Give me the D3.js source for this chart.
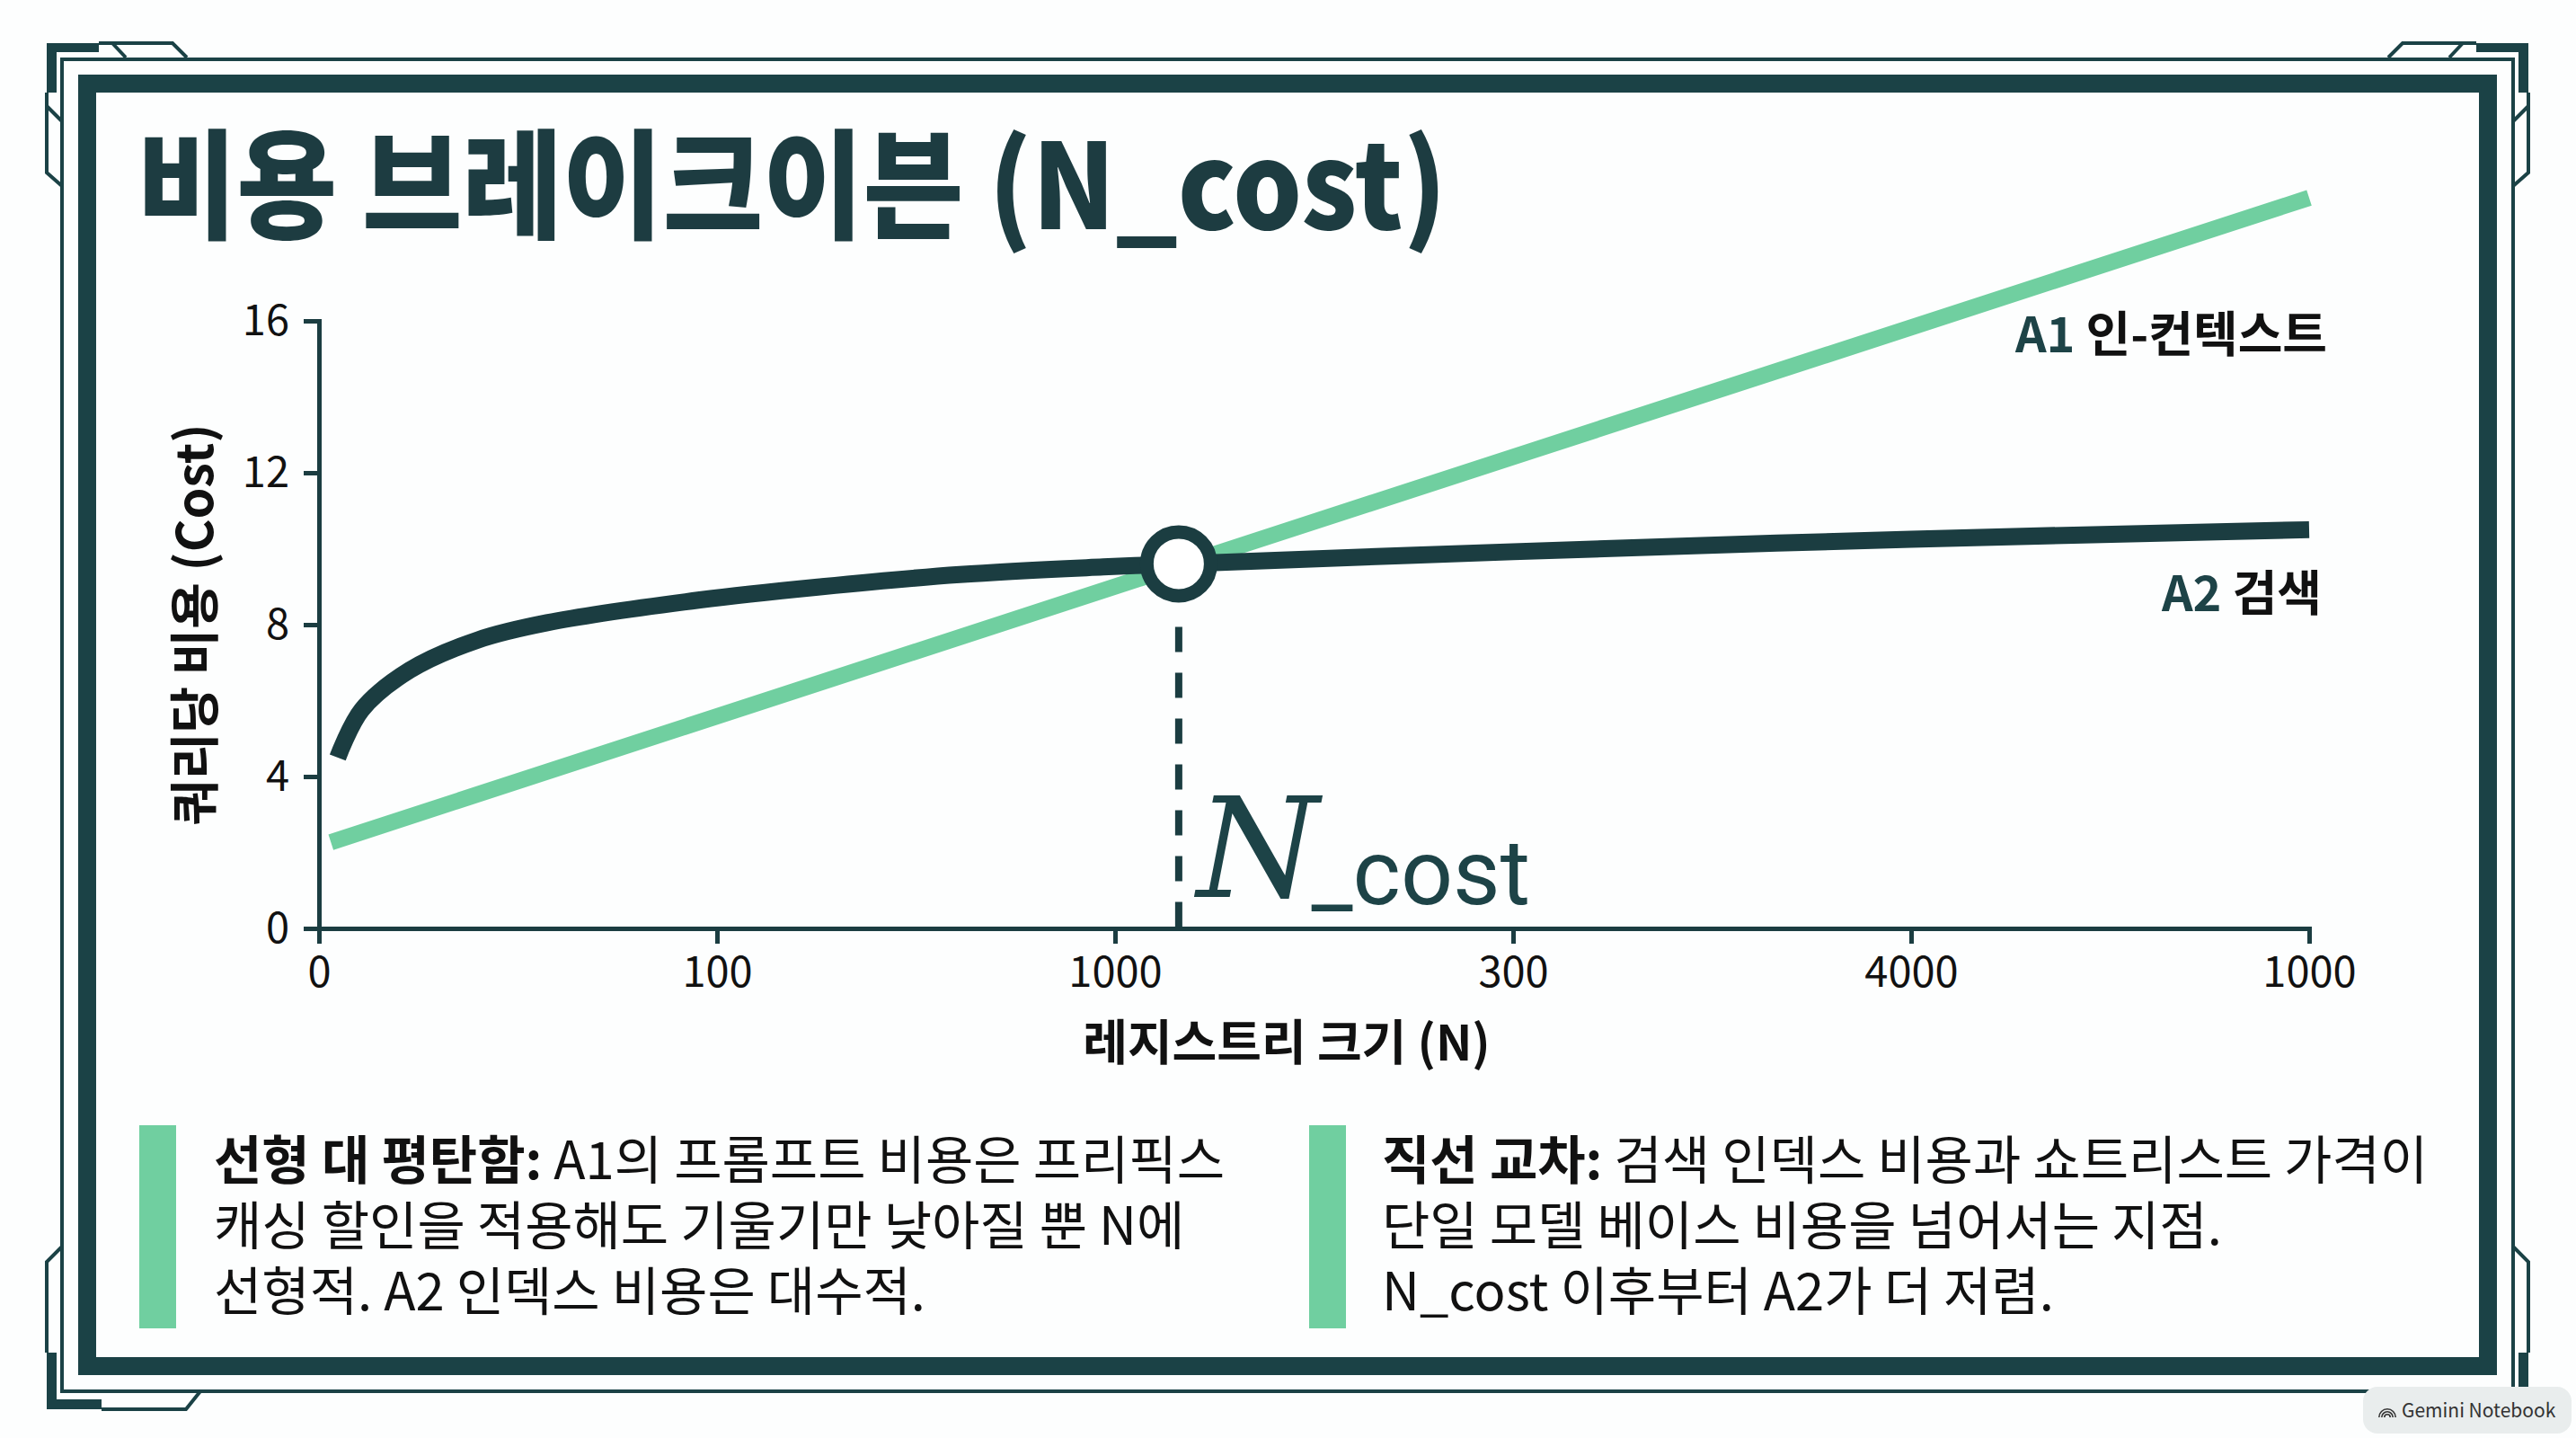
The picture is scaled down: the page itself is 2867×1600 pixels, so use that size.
<!DOCTYPE html>
<html>
<head>
<meta charset="utf-8">
<script src="https://cdn.jsdelivr.net/npm/d3@7"></script>
<style>
  body { margin: 0; background: #fdfefe; }
  svg { display: block; }
  text { font-family: "Noto Sans CJK KR", "Noto Sans", sans-serif; }
</style>
</head>
<body>
<svg width="2867" height="1600"></svg>
<script>
// 데이터
const xTickLabels = ["0", "100", "1000", "300", "4000", "1000"];
const yTicks = [0, 4, 8, 12, 16];

// A1 인-컨텍스트 (선형)
const a1Index = [0.03, 2.16, 5];
const a1Cost = [2.27, 9.55, 19.24];

// A2 검색 (대수적)
const a2Index = [0.047, 0.107, 0.228, 0.4, 0.573, 0.957, 1.264, 1.61, 1.97, 2.16, 3, 4, 5];
const a2Cost = [4.5, 5.75, 6.8, 7.6, 8.05, 8.65, 9.0, 9.32, 9.52, 9.6, 9.92, 10.25, 10.5];

const crossIndex = 2.16, crossCost = 9.6;

const leftNote = [
  { bold: "선형 대 평탄함:", rest: " A1의 프롬프트 비용은 프리픽스" },
  { bold: "", rest: "캐싱 할인을 적용해도 기울기만 낮아질 뿐 N에" },
  { bold: "", rest: "선형적. A2 인덱스 비용은 대수적." }
];
const rightNote = [
  { bold: "직선 교차:", rest: " 검색 인덱스 비용과 쇼트리스트 가격이" },
  { bold: "", rest: "단일 모델 베이스 비용을 넘어서는 지점." },
  { bold: "", rest: "N_cost 이후부터 A2가 더 저렴." }
];

const dark = "#1b3d41", frame = "#1b4246", green = "#70cfa0";

var svg = d3.select("svg");

// 프레임
var fr = svg.append("g").attr("fill", "none").attr("stroke", frame);
fr.append("rect").attr("x", 97).attr("y", 93).attr("width", 2672).attr("height", 1427)
  .attr("stroke-width", 20);
fr.append("rect").attr("x", 69).attr("y", 66).attr("width", 2728).attr("height", 1482)
  .attr("stroke-width", 4);

function mirror(pts) { return pts.map(function (p) { return [2866 - p[0], p[1]]; }); }
var lineGen = d3.line();
var topThick = [[52, 48], [110, 48], [110, 58], [63, 58], [63, 103], [52, 103]];
var topPaths = [
  [[110, 48], [192, 48], [208, 64]],
  [[125, 48], [140, 64]],
  [[52, 103], [52, 192], [69, 207]],
  [[52, 118], [69, 135]]
];
var botThick = [[52, 1568], [113, 1568], [113, 1557], [63, 1557], [63, 1505], [52, 1505]];
var botPaths = [
  [[113, 1568], [207, 1568], [223, 1548]],
  [[52, 1505], [52, 1404], [69, 1387]]
];
[topThick, mirror(topThick), botThick, mirror(botThick)].forEach(function (p) {
  svg.append("path").attr("d", lineGen(p) + "Z").attr("fill", frame);
});
topPaths.concat(topPaths.map(mirror), botPaths, botPaths.map(mirror)).forEach(function (p) {
  fr.append("path").attr("d", lineGen(p)).attr("stroke-width", 4);
});

// 제목
svg.append("text")
  .attr("x", 152).attr("y", 255)
  .attr("font-size", 132).attr("font-weight", 900)
  .attr("fill", "#1d3c41")
  .attr("textLength", 1458).attr("lengthAdjust", "spacingAndGlyphs")
  .text("비용 브레이크이븐 (N_cost)");

// 축
var x = d3.scaleLinear().domain([0, 5]).range([355, 2570]);
var y = d3.scaleLinear().domain([0, 16]).range([1033, 357]);

var xAxis = svg.append("g")
  .attr("transform", "translate(0," + y(0) + ")")
  .call(d3.axisBottom(x).tickValues(d3.range(xTickLabels.length))
    .tickFormat(function (d) { return xTickLabels[d]; })
    .tickSize(17).tickPadding(15));
var yAxis = svg.append("g")
  .attr("transform", "translate(" + x(0) + ",0)")
  .call(d3.axisLeft(y).tickValues(yTicks).tickSize(17).tickPadding(16));

[xAxis, yAxis].forEach(function (a) {
  a.selectAll("path, line").attr("stroke", dark).attr("stroke-width", 5);
  a.selectAll("text").attr("font-family", "Roboto").attr("font-size", 47).attr("fill", "#111");
});

svg.append("text")
  .attr("transform", "translate(212," + ((y(0) + y(16)) / 2) + ") rotate(-90)")
  .attr("text-anchor", "middle").attr("dominant-baseline", "central")
  .attr("font-size", 56).attr("font-weight", 700).attr("fill", "#111")
  .text("쿼리당 비용 (Cost)");

svg.append("text")
  .attr("x", 1432).attr("y", 1180)
  .attr("text-anchor", "middle")
  .attr("font-size", 54).attr("font-weight", 700).attr("fill", "#111")
  .text("레지스트리 크기 (N)");

// 선
var line = d3.line()
  .x(function (d) { return x(d[0]); })
  .y(function (d) { return y(d[1]); });

svg.append("path")
  .datum(d3.zip(a1Index, a1Cost))
  .attr("fill", "none").attr("stroke", green).attr("stroke-width", 18)
  .attr("d", line);

svg.append("path")
  .datum(d3.zip(a2Index, a2Cost))
  .attr("fill", "none").attr("stroke", dark).attr("stroke-width", 19)
  .attr("d", line.curve(d3.curveCatmullRom.alpha(0.5)));

// 교차점
svg.append("line")
  .attr("x1", x(crossIndex)).attr("x2", x(crossIndex))
  .attr("y1", y(crossCost) + 70).attr("y2", y(0))
  .attr("stroke", dark).attr("stroke-width", 8)
  .attr("stroke-dasharray", "28,23");

svg.append("circle")
  .attr("cx", x(crossIndex)).attr("cy", y(crossCost)).attr("r", 35.5)
  .attr("fill", "#fff").attr("stroke", dark).attr("stroke-width", 15);

var nlab = svg.append("text")
  .attr("x", x(crossIndex) + 20).attr("y", 998).attr("fill", "#1d4347");
nlab.append("tspan").attr("font-family", "DejaVu Serif").attr("font-style", "italic")
  .attr("font-size", 155).text("N");
nlab.append("tspan").attr("font-family", "Roboto").attr("font-size", 102).attr("dy", 8)
  .attr("dx", -8).text("_cost");

// 시리즈 라벨
function seriesLabel(code, name, xx, yy) {
  var t = svg.append("text").attr("x", xx).attr("y", yy)
    .attr("text-anchor", "end").attr("font-size", 54).attr("font-weight", 700);
  t.append("tspan").attr("fill", "#1d4347").text(code + " ");
  t.append("tspan").attr("fill", "#111").text(name);
}
seriesLabel("A1", "인-컨텍스트", 2590, 392);
seriesLabel("A2", "검색", 2584, 680);

// 하단 설명
function note(lines, bx, tx) {
  svg.append("rect").attr("x", bx).attr("y", 1252).attr("width", 41).attr("height", 226)
    .attr("fill", green);
  lines.forEach(function (l, i) {
    var t = svg.append("text").attr("x", tx).attr("y", 1312 + i * 73)
      .attr("font-size", 58).attr("fill", "#111");
    if (l.bold) t.append("tspan").attr("font-weight", 700).text(l.bold);
    t.append("tspan").text(l.rest);
  });
}
note(leftNote, 155, 238);
note(rightNote, 1457, 1538);

// 워터마크
var wm = svg.append("g");
wm.append("rect").attr("x", 2630).attr("y", 1543).attr("width", 232).attr("height", 52)
  .attr("rx", 16).attr("fill", "#e9eded");
[10, 7, 4].forEach(function (r) {
  wm.append("path")
    .attr("d", d3.arc()({ innerRadius: r - 1.6, outerRadius: r, startAngle: -Math.PI / 2, endAngle: Math.PI / 2 }))
    .attr("transform", "translate(2657,1577)").attr("fill", "#333");
});
wm.append("text").attr("x", 2673).attr("y", 1577)
  .attr("font-family", "Roboto").attr("font-size", 21).attr("fill", "#333")
  .text("Gemini Notebook");
</script>
</body>
</html>
